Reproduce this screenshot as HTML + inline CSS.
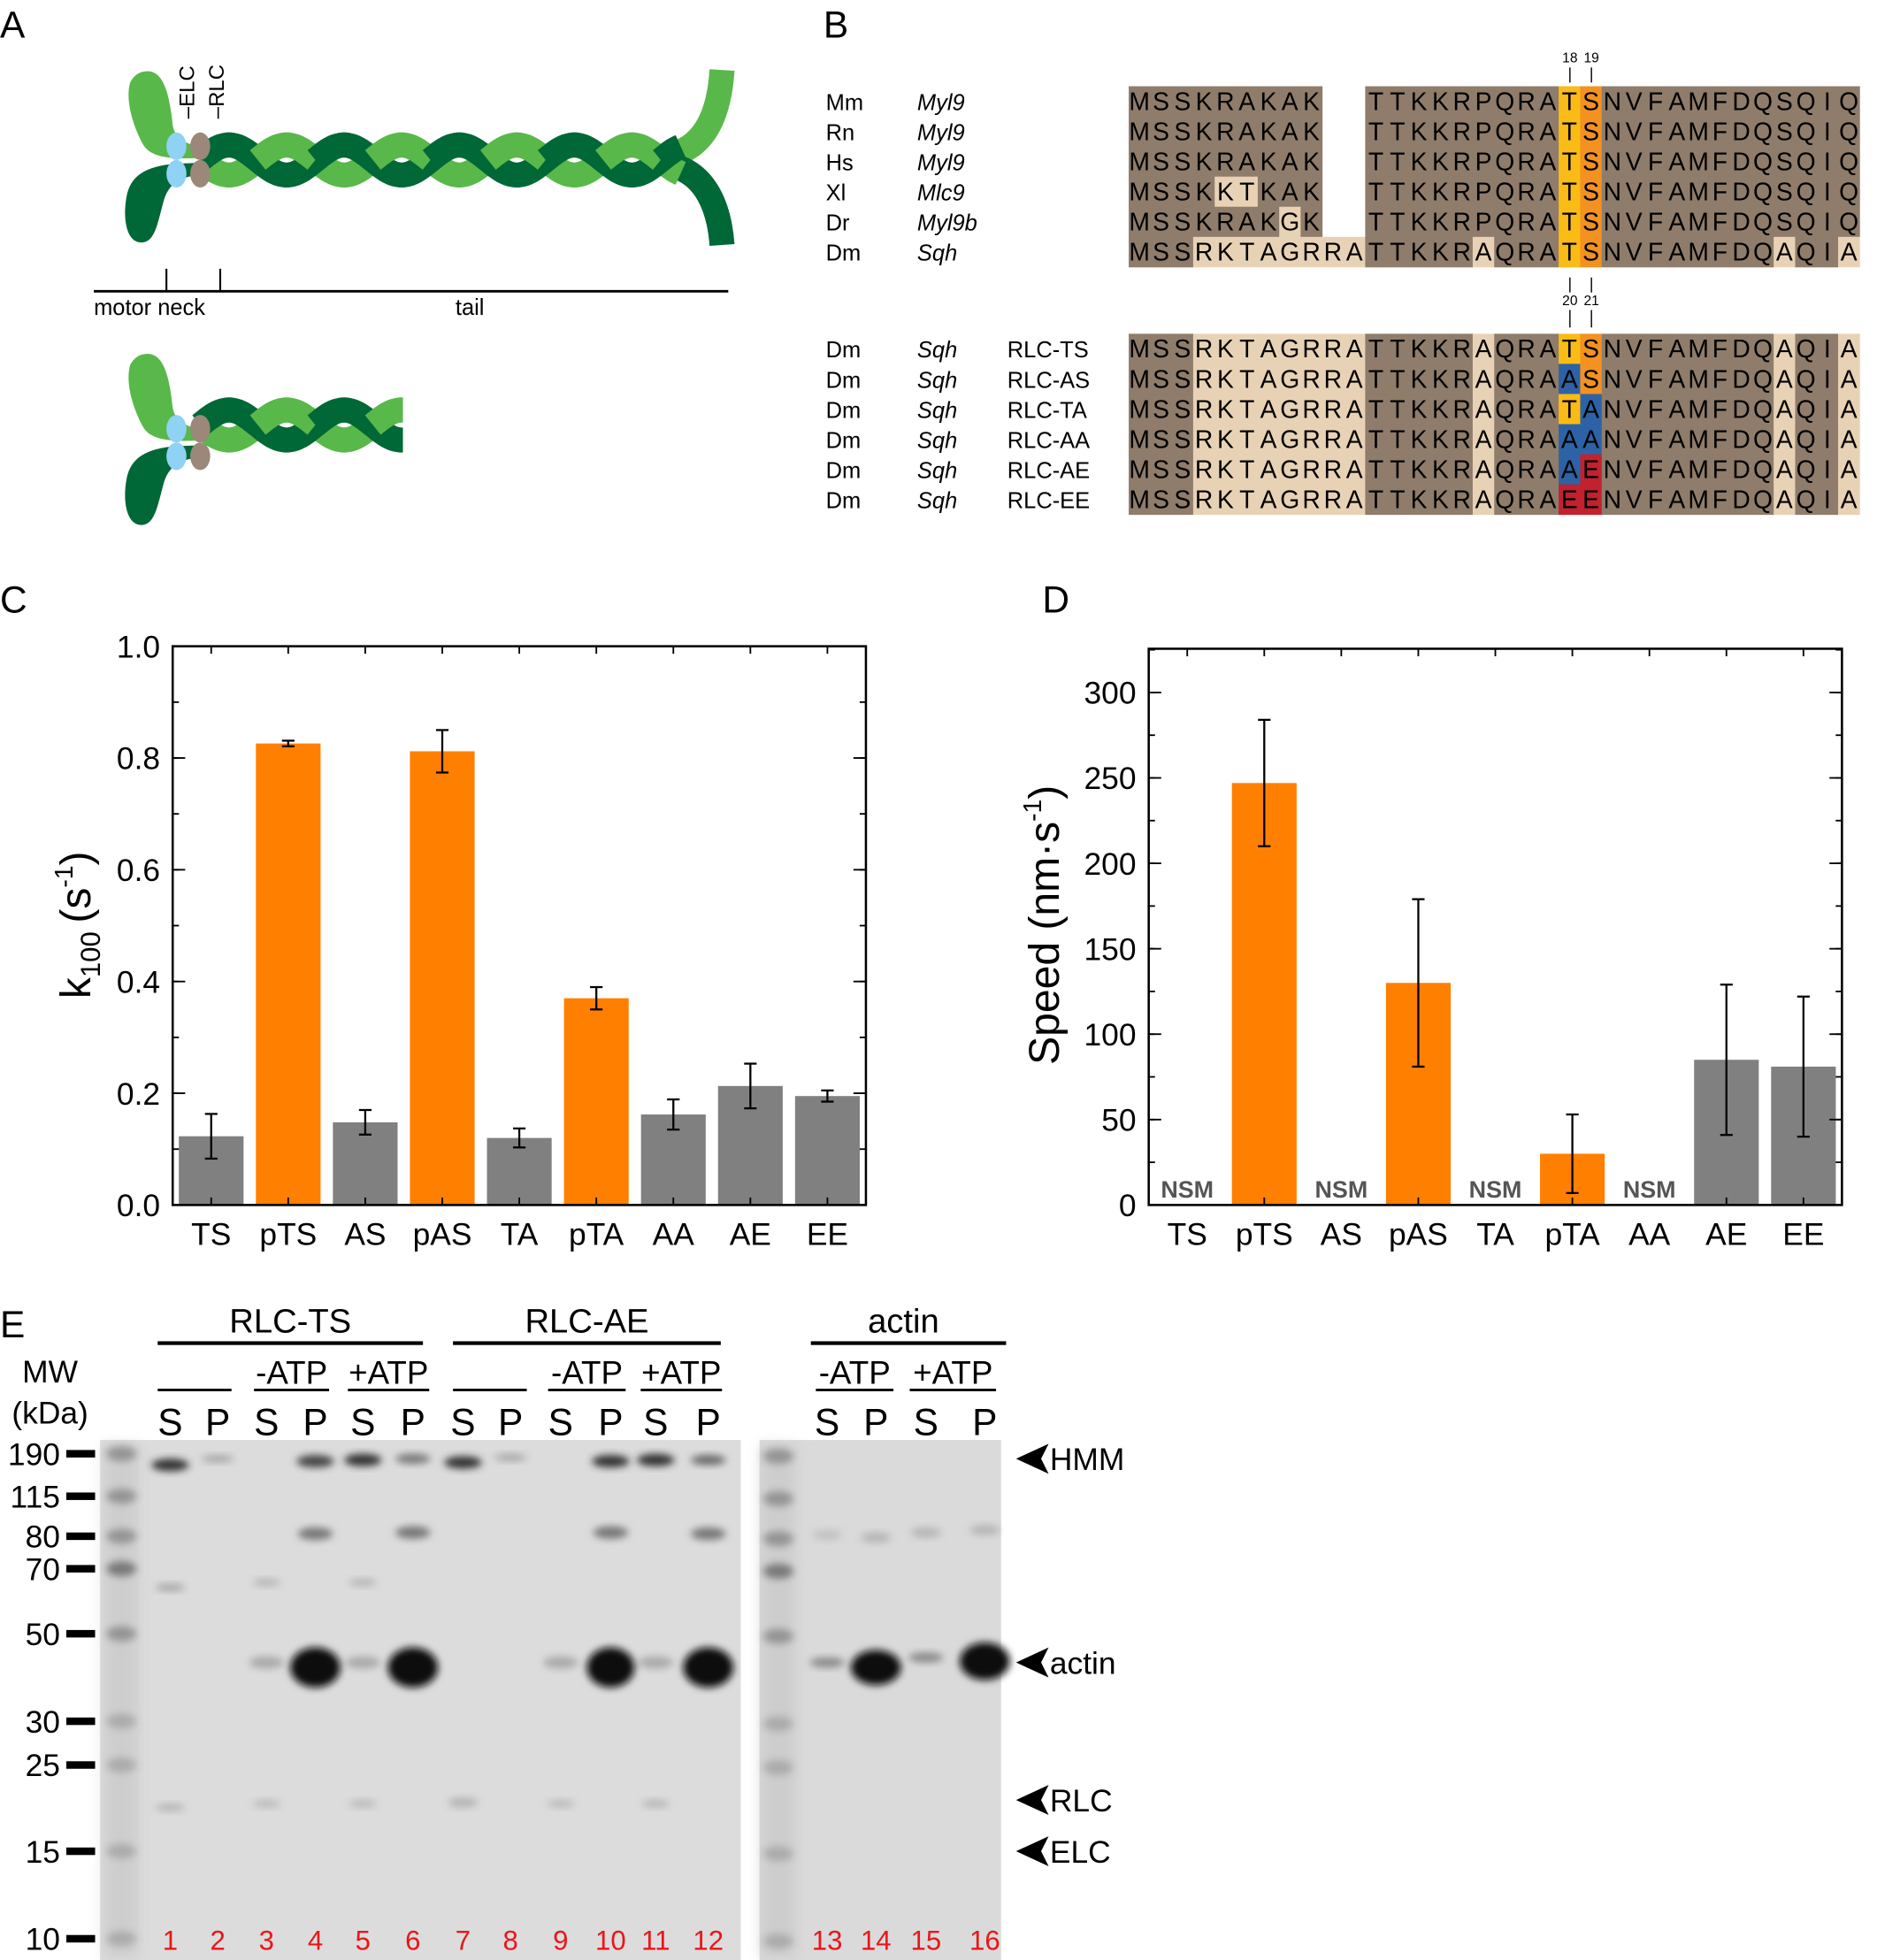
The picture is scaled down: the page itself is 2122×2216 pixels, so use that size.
<!DOCTYPE html>
<html><head><meta charset="utf-8"><style>
html,body{margin:0;padding:0;background:#fff}
svg{display:block}
text{font-family:"Liberation Sans",sans-serif}
</style></head><body>
<svg id="fig" width="2122" height="2216" viewBox="0 0 1500 1568" preserveAspectRatio="none" xmlns="http://www.w3.org/2000/svg">
<text x="0" y="30" font-size="30">A</text>
<text x="658" y="30" font-size="30">B</text>
<text x="0" y="490" font-size="30">C</text>
<text x="833" y="490" font-size="30">D</text>
<text x="0" y="1070" font-size="30">E</text>

<g id="panelA">
  <g id="coilTop"></g>
  <g id="headsTop">
    <path d="M118,57 C132,57 136,80 138,100 C140,112 150,116 165,118 L165,126 C135,128 120,126 114,115 C106,100 100,80 104,66 C107,60 112,57 118,57 Z" fill="#59b84a"/>
    <path d="M165,130 L165,140 C148,140 136,144 131,160 C126,178 124,194 113,194 C101,194 98,175 101,158 C104,140 117,133 140,131 Z" fill="#006837"/>
    <ellipse cx="141" cy="117" rx="8" ry="11" fill="#8fd2f4"/>
    <ellipse cx="141" cy="139" rx="8" ry="11" fill="#8fd2f4"/>
    <ellipse cx="160" cy="117" rx="8" ry="11" fill="#9b8878"/>
    <ellipse cx="160" cy="139" rx="8" ry="11" fill="#9b8878"/>
  </g>
  <text transform="translate(155,95) rotate(-90)" font-size="17">–ELC</text>
  <text transform="translate(179,95) rotate(-90)" font-size="17">–RLC</text>
  <line x1="75" y1="233" x2="582" y2="233" stroke="#000" stroke-width="2"/>
  <line x1="133" y1="215" x2="133" y2="233" stroke="#000" stroke-width="1.5"/>
  <line x1="176" y1="215" x2="176" y2="233" stroke="#000" stroke-width="1.5"/>
  <text x="75" y="252" font-size="18">motor neck</text>
  <text x="364" y="252" font-size="18">tail</text>
  <g id="coilBot"></g>
  <g transform="translate(0,226)">
    <path d="M118,57 C132,57 136,80 138,100 C140,112 150,116 165,118 L165,126 C135,128 120,126 114,115 C106,100 100,80 104,66 C107,60 112,57 118,57 Z" fill="#59b84a"/>
    <path d="M165,130 L165,140 C148,140 136,144 131,160 C126,178 124,194 113,194 C101,194 98,175 101,158 C104,140 117,133 140,131 Z" fill="#006837"/>
    <ellipse cx="141" cy="117" rx="8" ry="11" fill="#8fd2f4"/>
    <ellipse cx="141" cy="139" rx="8" ry="11" fill="#8fd2f4"/>
    <ellipse cx="160" cy="117" rx="8" ry="11" fill="#9b8878"/>
    <ellipse cx="160" cy="139" rx="8" ry="11" fill="#9b8878"/>
  </g>
</g>

<g id="panelB"></g>
<g id="panelC"></g>
<g id="panelD"></g>
<g id="panelE"></g>
</svg>
<script>
const NS="http://www.w3.org/2000/svg";
function mk(parent,tag,attrs,txt){const e=document.createElementNS(NS,tag);for(const k in attrs)e.setAttribute(k,attrs[k]);if(txt!==undefined)e.textContent=txt;parent.appendChild(e);return e;}

function coil(g,x0,x1,cy,split){
  const A=12,P=92,w=20;
  function pts(phase,a,b){let s="";for(let x=a;x<=b;x+=2){s+=(s?" L":"M")+x+","+(cy+A*Math.sin((x-x0)/P*2*Math.PI+phase)).toFixed(1);}return s;}
  if(split){
    mk(g,"path",{d:`M${x1-10},${cy-4} C${x1+20},${cy-10} ${x1+30},${cy-40} ${x1+32},${cy-72}`,stroke:"#59b84a","stroke-width":w,fill:"none"});
    mk(g,"path",{d:`M${x1-10},${cy+4} C${x1+20},${cy+10} ${x1+30},${cy+40} ${x1+32},${cy+68}`,stroke:"#006837","stroke-width":w,fill:"none"});
  }
  mk(g,"path",{d:pts(0,x0,x1),stroke:"#59b84a","stroke-width":w,fill:"none"});
  mk(g,"path",{d:pts(Math.PI,x0,x1),stroke:"#006837","stroke-width":w,fill:"none"});
  for(let i=0;x0+i*P/2<x1;i++){const a=x0+i*P/2, b=Math.min(x1,a+P/2);
    const ph=i%2?0:Math.PI;mk(g,"path",{d:pts(ph,a,b),stroke:ph?"#006837":"#59b84a","stroke-width":w,fill:"none"});}
}
coil(document.getElementById("coilTop"),160,545,128,true);
coil(document.getElementById("coilBot"),160,322,340,false);

const B=document.getElementById("panelB");
const seqTop=["MSSKRAKAK  TTKKRPQRATSNVFAMFDQSQIQ","MSSKRAKAK  TTKKRPQRATSNVFAMFDQSQIQ","MSSKRAKAK  TTKKRPQRATSNVFAMFDQSQIQ","MSSKKTKAK  TTKKRPQRATSNVFAMFDQSQIQ","MSSKRAKGK  TTKKRPQRATSNVFAMFDQSQIQ","MSSRKTAGRRATTKKRAQRATSNVFAMFDQAQIA"];
const spTop=[["Mm","Myl9"],["Rn","Myl9"],["Hs","Myl9"],["Xl","Mlc9"],["Dr","Myl9b"],["Dm","Sqh"]];
const lightTop=[[],[],[],[4,5],[7],[3,4,5,6,7,8,9,10,16,30,33]];
const mutLabels=["RLC-TS","RLC-AS","RLC-TA","RLC-AA","RLC-AE","RLC-EE"];
const mutRes=["TS","AS","TA","AA","AE","EE"];
const lightDm=[3,4,5,6,7,8,9,10,16,30,33];
const resCol={T:"#fbbb16",S:"#f39220",A:"#2d63a6",E:"#c2212e"};
const gx=902,cw=17.18,rh=24.1;
function row(y,seq,light,special){
  for(let i=0;i<seq.length;i++){
    const ch=seq[i]; if(ch===" ")continue;
    let f=light.includes(i)?"#e8d2b5":"#8f7c6b";
    if(i===20||i===21){f=special?resCol[ch]:(i===20?"#fbbb16":"#f39220");}
    mk(B,"rect",{x:(gx+i*cw).toFixed(1),y:y,width:cw+0.3,height:rh+0.3,fill:f});
    mk(B,"text",{x:(gx+i*cw+cw/2).toFixed(1),y:y+19,"font-size":20,"text-anchor":"middle"},ch);
  }
}
for(let r=0;r<6;r++){const y=69+r*rh;row(y,seqTop[r],lightTop[r],false);
  mk(B,"text",{x:660,y:y+19,"font-size":18},spTop[r][0]);
  mk(B,"text",{x:733,y:y+19,"font-size":18,"font-style":"italic"},spTop[r][1]);}
for(let r=0;r<6;r++){const y=267+r*rh;let s="MSSRKTAGRRATTKKRAQRA"+mutRes[r]+"NVFAMFDQAQIA";row(y,s,lightDm,true);
  mk(B,"text",{x:660,y:y+19,"font-size":18},"Dm");
  mk(B,"text",{x:733,y:y+19,"font-size":18,"font-style":"italic"},"Sqh");
  mk(B,"text",{x:805,y:y+19,"font-size":18},mutLabels[r]);}
[[18,1254.6],[19,1271.8]].forEach(([n,x])=>{mk(B,"text",{x:x,y:50,"font-size":11,"text-anchor":"middle"},n);mk(B,"line",{x1:x,y1:54,x2:x,y2:66,stroke:"#000"});});
[[20,1254.6],[21,1271.8]].forEach(([n,x])=>{mk(B,"text",{x:x,y:244,"font-size":11,"text-anchor":"middle"},n);mk(B,"line",{x1:x,y1:222,x2:x,y2:234,stroke:"#000"});mk(B,"line",{x1:x,y1:248,x2:x,y2:262,stroke:"#000"});});

const categories=["TS","pTS","AS","pAS","TA","pTA","AA","AE","EE"];
const kValues=[0.123,0.826,0.148,0.812,0.120,0.370,0.162,0.213,0.195];
const kErrors=[0.040,0.005,0.022,0.038,0.017,0.020,0.027,0.040,0.010];
const kTicks=[0.0,0.2,0.4,0.6,0.8,1.0];
const speedValues=[0,247,0,130,0,30,0,85,81];
const speedErrors=[0,37,0,49,0,23,0,44,41];
const speedNSM=[true,false,true,false,true,false,true,false,false];
const speedTicks=[0,50,100,150,200,250,300];
const phospho=[false,true,false,true,false,true,false,false,false];

function chart(g,L,R,T,Bt,ymax,vals,errs,ticks,fmt,nsm,minorStep){
  const sx=i=>L+(i+0.5)*(R-L)/vals.length;
  const sy=v=>Bt-v/ymax*(Bt-T);
  const bw=(R-L)/vals.length*0.84;
  vals.forEach((v,i)=>{
    if(!(nsm&&nsm[i])){
      const b=mk(g,"rect",{x:sx(i)-bw/2,y:sy(v),width:bw,height:Bt-sy(v),fill:phospho[i]?"#ff7f00":"#808080"});
      
      
      const e=errs[i];
      mk(g,"line",{x1:sx(i),x2:sx(i),y1:sy(v+e),y2:sy(v-e),stroke:"#000","stroke-width":1.6});
      mk(g,"line",{x1:sx(i)-5,x2:sx(i)+5,y1:sy(v+e),y2:sy(v+e),stroke:"#000","stroke-width":1.6});
      mk(g,"line",{x1:sx(i)-5,x2:sx(i)+5,y1:sy(v-e),y2:sy(v-e),stroke:"#000","stroke-width":1.6});
    } else {
      const t=mk(g,"text",{x:sx(i),y:Bt-6,"font-size":19,"font-weight":"bold",fill:"#555","text-anchor":"middle"},"NSM");
      
      
    }
    const xl=mk(g,"text",{x:sx(i),y:Bt+32,"font-size":25,"text-anchor":"middle"},categories[i]);
    
    
    if(!(nsm&&nsm[i]))mk(g,"line",{x1:sx(i),x2:sx(i),y1:Bt,y2:Bt-6,stroke:"#000","stroke-width":1.3});
    mk(g,"line",{x1:sx(i),x2:sx(i),y1:T,y2:T+6,stroke:"#000","stroke-width":1.3});
  });
  for(let v=0;v<=ymax+1e-9;v+=minorStep){
    mk(g,"line",{x1:L,x2:L+5,y1:sy(v),y2:sy(v),stroke:"#000","stroke-width":1.3});
    mk(g,"line",{x1:R,x2:R-5,y1:sy(v),y2:sy(v),stroke:"#000","stroke-width":1.3});
  }
  ticks.forEach(v=>{
    mk(g,"line",{x1:L,x2:L+10,y1:sy(v),y2:sy(v),stroke:"#000","stroke-width":1.3});
    mk(g,"line",{x1:R,x2:R-10,y1:sy(v),y2:sy(v),stroke:"#000","stroke-width":1.3});
    const t=mk(g,"text",{x:L-10,y:sy(v)+9,"font-size":25,"text-anchor":"end"},fmt(v));
    
    
  });
  const fr=mk(g,"rect",{x:L,y:T,width:R-L,height:Bt-T,fill:"none",stroke:"#000","stroke-width":1.8});
  
  
}
const C=document.getElementById("panelC");
chart(C,138,692,517,964,1.0,kValues,kErrors,kTicks,v=>v.toFixed(1),null,0.1);
const yc=mk(C,"text",{transform:"translate(72,740) rotate(-90)","font-size":34,"text-anchor":"middle"});


mk(yc,"tspan",{},"k");mk(yc,"tspan",{"font-size":22,dy:8},"100");mk(yc,"tspan",{dy:-8},"\u2009(s");mk(yc,"tspan",{"font-size":20,dy:-14},"-1");mk(yc,"tspan",{dy:14},")");

const D=document.getElementById("panelD");
chart(D,918,1472,519,964,325.6,speedValues,speedErrors,speedTicks,v=>String(v),speedNSM,25);
const yd=mk(D,"text",{transform:"translate(846,740) rotate(-90)","font-size":34,"text-anchor":"middle"});


mk(yd,"tspan",{},"Speed (nm·s");mk(yd,"tspan",{"font-size":20,dy:-14},"-1");mk(yd,"tspan",{dy:14},")");

const E=document.getElementById("panelE");
const defs=mk(E,"defs",{});
const flt=mk(defs,"filter",{id:"blur",x:"-50%",y:"-50%",width:"200%",height:"200%"});
mk(flt,"feGaussianBlur",{stdDeviation:3});
const flt2=mk(defs,"filter",{id:"blur2",x:"-50%",y:"-50%",width:"200%",height:"200%"});
mk(flt2,"feGaussianBlur",{stdDeviation:5});
mk(E,"rect",{x:80,y:1152,width:512,height:416,fill:"#dcdcdc"});
mk(E,"rect",{x:607,y:1152,width:193,height:416,fill:"#dadada"});
const laneX=[136,174,213,252,290,330,370,408,448,488,524,566,661,700,740,787];
const mwLabels=["190","115","80","70","50","30","25","15","10"];
const mwY=[1163,1197,1229,1255,1307,1377,1412,1481,1551];
[97,622].forEach(x=>{
  mk(E,"rect",{x:x-14,y:1156,width:28,height:410,fill:"#c8c8c8",filter:"url(#blur2)",opacity:0.7});
  mwY.forEach((y,i)=>{mk(E,"ellipse",{cx:x,cy:y+(x>600?2:0),rx:12,ry:6,fill:i===3?"#6a6a6a":"#8a8a8a",filter:"url(#blur)",opacity:i>=5?0.5:0.85});});
});
mwLabels.forEach((m,i)=>{
  const t=mk(E,"text",{x:48,y:mwY[i]+9,"font-size":25,"text-anchor":"end"},m);
  
  
  mk(E,"rect",{x:53,y:mwY[i]-3,width:23,height:6,fill:"#000"});
});
const bands=[
 [0,1172,15,5,"#333",1],[1,1167,13,3,"#999",0.8],[3,1169,15,5,"#444",1],[4,1168,15,5,"#333",1],[5,1167,14,4,"#777",1],
 [6,1170,15,5,"#333",1],[7,1166,13,3,"#999",0.8],[9,1169,15,5,"#333",1],[10,1168,15,5,"#333",1],[11,1168,14,4,"#666",1],
 [3,1227,14,5,"#777",1],[5,1226,14,5,"#777",1],[9,1226,14,5,"#777",1],[11,1227,14,5,"#777",1],
 [12,1228,12,4,"#bbb",0.8],[13,1230,12,4,"#aaa",0.8],[14,1226,12,4,"#aaa",0.8],[15,1224,12,4,"#aaa",0.8],
 [0,1270,12,3,"#999",0.8],[2,1266,11,3,"#aaa",0.8],[4,1266,11,3,"#aaa",0.8],
 [2,1330,14,5,"#aaa",1],[4,1330,14,5,"#aaa",1],[8,1330,14,5,"#aaa",1],[10,1330,14,5,"#aaa",1],
 [12,1330,14,4,"#888",1],[14,1326,14,4,"#888",1],
 [3,1334,20,16,"#111",1],[5,1334,20,16,"#111",1],[9,1334,19,16,"#111",1],[11,1334,20,16,"#111",1],
 [13,1334,20,14,"#111",1],[15,1329,20,15,"#111",1],
 [0,1446,12,3,"#aaa",0.8],[2,1443,11,3,"#b0b0b0",0.8],[4,1443,11,3,"#b0b0b0",0.8],[6,1442,12,4,"#aaa",0.8],[8,1443,11,3,"#b0b0b0",0.8],[10,1443,11,3,"#aaa",0.8]
];
bands.forEach(b=>{const e=mk(E,"ellipse",{cx:laneX[b[0]],cy:b[1],rx:b[2],ry:b[3],fill:b[4],opacity:b[5],filter:"url(#blur)"});
  
  });
laneX.forEach((x,i)=>{const t=mk(E,"text",{x:x,y:1560,"font-size":22,fill:"#e8161b","text-anchor":"middle"},String(i+1));
  
  });
[["RLC-TS",232,126,338],["RLC-AE",469,362,576],["actin",722,648,804]].forEach(h=>{
  mk(E,"text",{x:h[1],y:1066,"font-size":27,"text-anchor":"middle"},h[0]);
  mk(E,"rect",{x:h[2],y:1073,width:h[3]-h[2],height:3,fill:"#000"});});
[[126,185,""],[203,263,"-ATP"],[278,343,"+ATP"],[362,421,""],[438,500,"-ATP"],[512,577,"+ATP"],[652,714,"-ATP"],[727,796,"+ATP"]].forEach(s=>{
  mk(E,"rect",{x:s[0],y:1111,width:s[1]-s[0],height:2,fill:"#000"});
  if(s[2])mk(E,"text",{x:(s[0]+s[1])/2,y:1107,"font-size":26,"text-anchor":"middle"},s[2]);});
laneX.forEach((x,i)=>{mk(E,"text",{x:x,y:1148,"font-size":30,"text-anchor":"middle"},i%2?"P":"S");});
mk(E,"text",{x:40,y:1106,"font-size":25,"text-anchor":"middle"},"MW");
mk(E,"text",{x:40,y:1139,"font-size":25,"text-anchor":"middle"},"(kDa)");
[["HMM",1167],["actin",1330],["RLC",1440],["ELC",1481]].forEach(a=>{
  mk(E,"path",{d:`M812,${a[1]} L838,${a[1]-12} L832,${a[1]} L838,${a[1]+12}Z`,fill:"#000"});
  const t=mk(E,"text",{x:839,y:a[1]+9,"font-size":25},a[0]);
  
  });
</script>
</body></html>
